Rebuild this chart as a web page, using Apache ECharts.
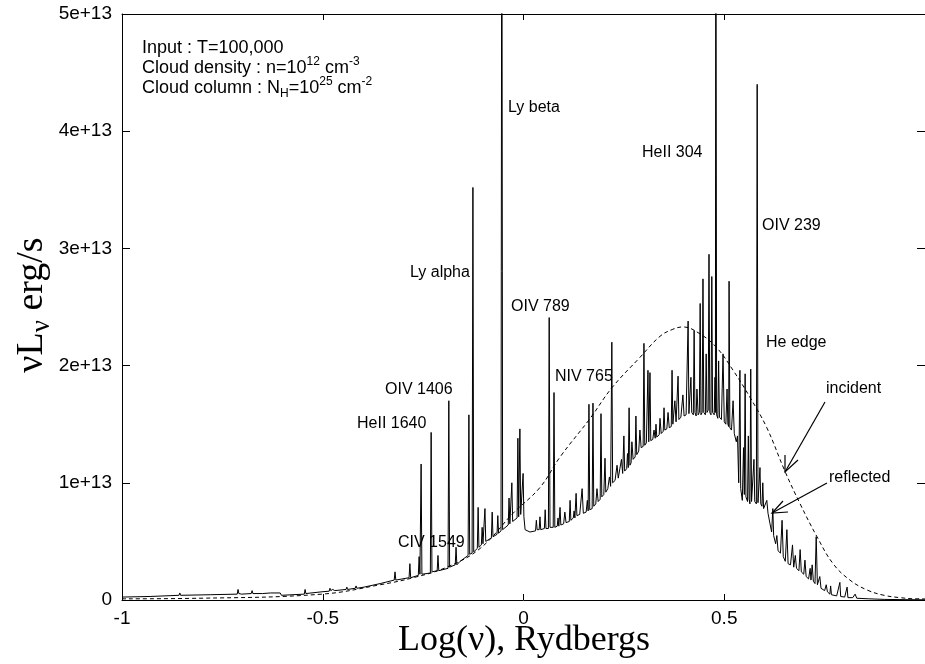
<!DOCTYPE html>
<html>
<head>
<meta charset="utf-8">
<script src="https://cdn.jsdelivr.net/npm/echarts@6/dist/echarts.min.js"></script>
<style>
html,body{margin:0;padding:0;background:#fff;}
#chart{width:925px;height:664px;}
</style>
</head>
<body>
<div id="chart"></div>
<script>
// ---- data (luminosity in units of 1e13 erg/s, x = log nu in Rydbergs) ----
const xTickLabels = {'-1':'-1','-0.5':'-0.5','0':'0','0.5':'0.5','1':''};
const yTickLabels = ['0','1e+13','2e+13','3e+13','4e+13','5e+13'];

const incident = [
  [-1.0,0.01],[-0.806,0.015],[-0.502,0.05],[-0.357,0.13],[-0.275,0.19],[-0.191,0.28],
  [-0.108,0.44],[-0.026,0.74],[0.041,0.96],[0.091,1.22],[0.166,1.55],[0.220,1.81],
  [0.290,2.07],[0.340,2.25],[0.372,2.31],[0.397,2.33],[0.440,2.27],[0.482,2.15],
  [0.522,1.96],[0.564,1.73],[0.606,1.47],[0.651,1.10],[0.689,0.82],[0.731,0.54],
  [0.771,0.31],[0.813,0.17],[0.856,0.085],[0.898,0.04],[0.938,0.02],[0.98,0.01],[1.0,0.01]
];

const reflected = [
  [-1.0,0.025],[-0.93,0.03],
  [-0.858,0.04],[-0.856,0.06],[-0.854,0.04],[-0.78,0.045],
  [-0.713,0.05],[-0.711,0.09],[-0.709,0.055],[-0.705,0.07],[-0.702,0.05],
  [-0.678,0.055],[-0.676,0.08],[-0.674,0.055],[-0.65,0.055],[-0.63,0.06],[-0.606,0.06],[-0.603,0.04],
  [-0.546,0.05],[-0.544,0.09],[-0.542,0.055],[-0.502,0.07],
  [-0.484,0.075],[-0.482,0.1],[-0.48,0.08],[-0.475,0.09],[-0.47,0.08],
  [-0.442,0.09],[-0.44,0.11],[-0.438,0.09],[-0.419,0.1],[-0.417,0.12],[-0.415,0.1],
  [-0.397,0.11],[-0.395,0.12],[-0.393,0.11],[-0.357,0.14],
  [-0.322,0.17],[-0.32,0.24],[-0.318,0.17],
  [-0.285,0.19],[-0.283,0.31],[-0.281,0.19],
  [-0.262,0.21],[-0.26,0.37],[-0.258,0.22],[-0.255,1.16],[-0.253,0.22],
  [-0.232,0.23],[-0.23,1.43],[-0.228,0.24],
  [-0.215,0.25],[-0.213,0.38],[-0.211,0.25],
  [-0.188,0.27],[-0.186,1.70],[-0.184,0.28],
  [-0.17,0.3],[-0.168,0.45],[-0.166,0.3],[-0.158,0.33],
  [-0.138,0.38],[-0.136,1.58],[-0.134,0.39],
  [-0.128,0.4],[-0.126,3.52],[-0.124,0.41],
  [-0.115,0.44],[-0.113,0.79],[-0.111,0.45],
  [-0.105,0.47],[-0.103,0.62],[-0.101,0.48],
  [-0.098,0.49],[-0.096,0.78],[-0.094,0.5],
  [-0.08,0.53],[-0.078,0.75],[-0.076,0.54],
  [-0.066,0.56],[-0.064,0.72],[-0.062,0.57],
  [-0.056,0.59],[-0.054,7.0],[-0.052,0.6],
  [-0.038,0.64],[-0.036,0.87],[-0.034,0.65],
  [-0.031,0.66],[-0.029,1.0],[-0.027,0.67],
  [-0.016,0.7],[-0.014,1.38],[-0.012,0.71],
  [-0.011,0.72],[-0.009,1.46],[-0.007,0.73],
  [-0.003,0.72],[-0.001,1.08],[0.001,0.71],
  [0.004,0.6],[0.016,0.58],
  [0.03,0.59],[0.032,0.68],[0.034,0.6],
  [0.039,0.6],[0.041,0.71],[0.043,0.6],
  [0.052,0.61],[0.054,0.77],[0.056,0.61],
  [0.062,0.61],[0.064,2.41],[0.066,0.62],
  [0.074,0.62],[0.076,1.77],[0.078,0.62],
  [0.084,0.63],[0.086,0.7],[0.088,0.63],[0.091,0.79],[0.093,0.64],
  [0.1,0.65],[0.103,0.75],[0.106,0.66],
  [0.114,0.67],[0.116,0.85],[0.118,0.68],
  [0.124,0.7],[0.126,0.76],[0.128,0.7],[0.131,0.91],[0.133,0.72],
  [0.14,0.73],[0.146,0.95],[0.149,0.74],
  [0.156,0.75],[0.159,0.85],[0.161,0.76],[0.163,1.67],[0.165,0.77],
  [0.171,0.78],[0.173,1.68],[0.175,0.8],
  [0.18,0.82],[0.183,0.95],[0.186,0.84],
  [0.191,0.86],[0.193,1.59],[0.195,0.88],
  [0.2,0.9],[0.203,1.21],[0.205,0.92],
  [0.21,0.95],[0.214,1.05],[0.217,0.97],[0.22,2.2],[0.222,1.0],
  [0.228,1.02],[0.233,1.15],[0.236,1.04],
  [0.24,1.05],[0.244,1.2],[0.247,1.08],[0.25,1.4],[0.252,1.1],
  [0.257,1.12],[0.259,1.25],[0.261,1.13],[0.263,1.64],[0.265,1.15],
  [0.268,1.17],[0.27,1.35],[0.273,1.2],
  [0.278,1.22],[0.28,1.57],[0.282,1.24],
  [0.287,1.27],[0.29,1.45],[0.293,1.3],
  [0.298,1.31],[0.3,2.19],[0.302,1.32],
  [0.306,1.34],[0.31,1.96],[0.312,1.35],[0.315,1.94],[0.317,1.36],
  [0.322,1.37],[0.325,1.45],[0.328,1.38],[0.33,1.5],[0.332,1.39],
  [0.338,1.41],[0.34,1.55],[0.343,1.42],
  [0.348,1.44],[0.35,1.64],[0.352,1.45],
  [0.357,1.46],[0.36,1.6],[0.363,1.47],
  [0.368,1.48],[0.37,1.96],[0.372,1.5],
  [0.375,1.5],[0.377,1.7],[0.38,1.52],
  [0.383,1.53],[0.385,1.91],[0.387,1.54],
  [0.392,1.56],[0.397,1.75],[0.4,1.57],
  [0.405,1.58],[0.41,2.38],[0.412,1.59],
  [0.415,1.58],[0.417,1.9],[0.419,1.6],
  [0.423,1.58],[0.425,2.3],[0.427,1.6],
  [0.43,1.57],[0.432,1.8],[0.435,1.58],
  [0.438,1.6],[0.44,2.53],[0.442,1.58],
  [0.445,1.6],[0.447,2.74],[0.449,1.6],
  [0.453,1.58],[0.455,2.1],[0.457,1.6],
  [0.46,1.62],[0.462,2.95],[0.464,1.6],
  [0.467,1.58],[0.469,2.76],[0.471,1.6],
  [0.475,1.58],[0.477,1.9],[0.478,1.6],[0.479,7.0],[0.481,1.58],
  [0.484,1.55],[0.486,2.04],[0.488,1.56],
  [0.493,1.54],[0.497,2.1],[0.5,1.52],
  [0.504,1.5],[0.507,1.8],[0.509,1.5],
  [0.511,1.48],[0.512,2.72],[0.514,1.47],
  [0.518,1.45],[0.522,1.7],[0.525,1.42],
  [0.53,1.35],[0.533,1.4],[0.536,1.0],[0.539,1.96],[0.541,0.95],
  [0.545,0.85],[0.548,1.3],[0.55,0.9],[0.552,1.93],[0.554,0.88],
  [0.558,0.84],[0.56,1.4],[0.562,0.86],
  [0.564,0.82],[0.566,1.97],[0.568,0.84],
  [0.572,0.83],[0.574,1.2],[0.576,0.84],
  [0.58,0.82],[0.582,4.4],[0.584,0.83],
  [0.587,0.82],[0.589,1.13],[0.591,0.82],
  [0.594,0.8],[0.596,1.0],[0.598,0.78],
  [0.602,0.77],[0.606,0.85],[0.609,0.74],
  [0.614,0.65],[0.618,0.58],[0.621,0.78],[0.623,0.55],
  [0.628,0.48],[0.631,0.55],[0.634,0.42],
  [0.64,0.4],[0.644,0.68],[0.647,0.37],
  [0.652,0.33],[0.656,0.6],[0.659,0.31],
  [0.665,0.3],[0.67,0.47],[0.673,0.28],
  [0.677,0.38],[0.68,0.27],
  [0.686,0.25],[0.689,0.43],[0.692,0.24],
  [0.698,0.22],[0.701,0.34],[0.704,0.2],
  [0.71,0.18],[0.714,0.27],[0.716,0.17],[0.719,0.3],[0.722,0.16],
  [0.726,0.14],[0.729,0.54],[0.732,0.13],
  [0.736,0.12],[0.738,0.2],[0.741,0.1],
  [0.75,0.08],[0.754,0.13],[0.757,0.07],
  [0.763,0.05],[0.765,0.12],[0.767,0.045],
  [0.78,0.035],[0.788,0.15],[0.79,0.03],
  [0.8,0.025],[0.806,0.11],[0.808,0.02],
  [0.82,0.02],[0.826,0.05],[0.83,0.015],
  [0.86,0.01],[0.9,0.005],[0.95,0.003],[1.0,0.002]
];

const lineLabels = [
  ['Ly beta', 508, 108], ['HeII 304', 642, 153], ['OIV 239', 762, 226],
  ['Ly alpha', 410, 273], ['OIV 789', 511, 307], ['He edge', 766, 343],
  ['NIV 765', 555, 377], ['incident', 826, 389], ['OIV 1406', 385, 390],
  ['HeII 1640', 357, 424], ['reflected', 829, 478], ['CIV 1549', 398, 543]
];

// ---- chart ----
const chart = echarts.init(document.getElementById('chart'), null, {renderer:'canvas'});
const SANS = '"Liberation Sans", Arial, Helvetica, sans-serif';
const SERIF = '"Liberation Serif", "Times New Roman", serif';

const axisCommon = {
  type:'value', min:-1, max:1, interval:0.5,
  axisLine:{show:true, onZero:false, lineStyle:{color:'#000', width:1}},
  axisTick:{show:true, inside:true, length:6, lineStyle:{color:'#000', width:1}},
  splitLine:{show:false}
};
const yCommon = {
  type:'value', min:0, max:5, interval:1,
  axisLine:{show:true, onZero:false, lineStyle:{color:'#000', width:1}},
  axisTick:{show:true, inside:true, length:8, lineStyle:{color:'#000', width:1}},
  splitLine:{show:false}
};

const graphics = [];
lineLabels.forEach(function(l){
  graphics.push({type:'text', x:l[1], y:l[2], silent:true,
    style:{text:l[0], fill:'#000', font:'16px ' + SANS, textAlign:'left', textVerticalAlign:'middle'}});
});
const sup = {fontSize:12, fontFamily:SANS, fill:'#000', lineHeight:12, verticalAlign:'top'};
const sub = {fontSize:12, fontFamily:SANS, fill:'#000', lineHeight:12, verticalAlign:'bottom'};
const base = {fontSize:18, fontFamily:SANS, fill:'#000', lineHeight:24};
graphics.push({type:'text', x:142, y:48, silent:true,
  style:{text:'{b|Input : T=100,000}', rich:{b:base}, textVerticalAlign:'middle'}});
graphics.push({type:'text', x:142, y:68, silent:true,
  style:{text:'{b|Cloud density : n=10}{p|12}{b| cm}{p|-3}', rich:{b:base, p:sup}, textVerticalAlign:'middle'}});
graphics.push({type:'text', x:142, y:88, silent:true,
  style:{text:'{b|Cloud column : N}{s|H}{b|=10}{p|25}{b| cm}{p|-2}', rich:{b:base, p:sup, s:sub}, textVerticalAlign:'middle'}});
// axis titles
graphics.push({type:'text', x:524, y:641, silent:true,
  style:{text:'Log(\u03bd), Rydbergs', font:'36px ' + SERIF, fill:'#000', textAlign:'center', textVerticalAlign:'middle'}});
graphics.push({type:'text', x:32, y:305, rotation:Math.PI/2, silent:true,
  style:{text:'{b|\u03bdL}{s|\u03bd}{b| erg/s}', textAlign:'center', textVerticalAlign:'middle',
    rich:{b:{fontSize:38, fontFamily:SERIF, fill:'#000', lineHeight:46},
          s:{fontSize:27, fontFamily:SERIF, fill:'#000', lineHeight:27, verticalAlign:'bottom'}}}});
// arrows
graphics.push({type:'polyline', silent:true, shape:{points:[[825,402],[785,472]]}, style:{stroke:'#000', lineWidth:1.2, fill:null}});
graphics.push({type:'polyline', silent:true, shape:{points:[[785,455],[785,472],[798,460]]}, style:{stroke:'#000', lineWidth:1.2, fill:null}});
graphics.push({type:'polyline', silent:true, shape:{points:[[827,483],[772,513]]}, style:{stroke:'#000', lineWidth:1.2, fill:null}});
graphics.push({type:'polyline', silent:true, shape:{points:[[783,501],[772,513],[788,512]]}, style:{stroke:'#000', lineWidth:1.2, fill:null}});

chart.setOption({
  animation:false,
  backgroundColor:'#fff',
  grid:{left:122, right:0, top:14, bottom:64, containLabel:false, outerBoundsMode:'none', show:false},
  xAxis:[
    Object.assign({}, axisCommon, {position:'bottom',
      axisLabel:{show:true, color:'#000', fontFamily:SANS, fontSize:19, margin:9,
        formatter:function(v){ var k = String(v); return (k in xTickLabels) ? xTickLabels[k] : k; }}}),
    Object.assign({}, axisCommon, {position:'top', axisLabel:{show:false}})
  ],
  yAxis:[
    Object.assign({}, yCommon, {position:'left',
      axisLabel:{show:true, color:'#000', fontFamily:SANS, fontSize:19, margin:10,
        formatter:function(v){ return yTickLabels[Math.round(v)]; }}}),
    Object.assign({}, yCommon, {position:'right', axisLabel:{show:false}})
  ],
  series:[
    {type:'line', name:'incident', data:incident, smooth:0.4, showSymbol:false, symbol:'none',
      clip:true, lineStyle:{color:'#000', width:1, type:[4,3]}, z:2},
    {type:'line', name:'reflected', data:reflected, showSymbol:false, symbol:'none',
      clip:true, lineStyle:{color:'#000', width:1}, z:3}
  ],
  graphic:graphics
});
</script>
</body>
</html>
